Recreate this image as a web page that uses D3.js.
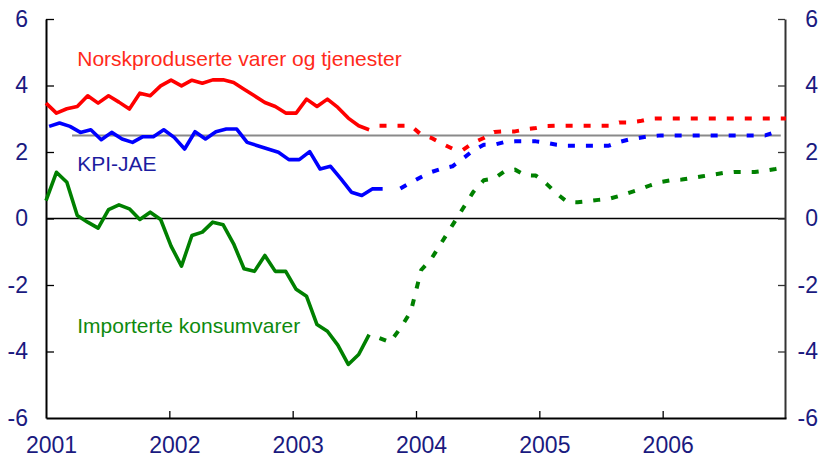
<!DOCTYPE html>
<html>
<head>
<meta charset="utf-8">
<script src="https://cdn.jsdelivr.net/npm/d3@7"></script>
<style>
  body { margin: 0; background: #fff; }
  svg { display: block; font-family: "Liberation Sans", Arial, sans-serif; }
</style>
</head>
<body>
<svg id="drawing_region"></svg>
<script>
// months counted from Jan 2001 (0) to Dec 2006 (71)
const years = [2001, 2002, 2003, 2004, 2005, 2006];
const yTicks = [-6, -4, -2, 0, 2, 4, 6];

const redStart = 0;
const redSolid = [3.47, 3.17, 3.3, 3.37, 3.69, 3.47, 3.69, 3.5, 3.29, 3.77, 3.69, 3.99,
                  4.16, 3.99, 4.16, 4.07, 4.17, 4.17, 4.09, 3.89, 3.69, 3.49, 3.37, 3.17,
                  3.17, 3.59, 3.37, 3.59, 3.34, 3.02, 2.79, 2.67];
const redDashStart = 32;
const redDash = [2.79, 2.79, 2.79, 2.79, 2.52, 2.42, 2.25, 2.1, 2.06, 2.28, 2.42, 2.6,
                 2.62, 2.62, 2.68, 2.72, 2.78, 2.79, 2.79, 2.79, 2.79, 2.79, 2.79, 2.89,
                 2.89, 2.93, 3.0, 3.01, 3.01, 3.01, 3.01, 3.01, 3.01, 3.01, 3.01, 3.01,
                 3.01, 3.01, 3.01, 3.01];

const blueStart = 0.3;
const blueSolid = [2.77, 2.87, 2.77, 2.59, 2.67, 2.37, 2.59, 2.39, 2.29, 2.46, 2.46, 2.67,
                   2.44, 2.09, 2.61, 2.39, 2.61, 2.69, 2.69, 2.29, 2.19, 2.09, 1.99, 1.77,
                   1.77, 2.01, 1.49, 1.57, 1.19, 0.79, 0.69, 0.89, 0.89];
const blueDashStart = 34;
const blueDash = [0.9, 1.08, 1.25, 1.4, 1.5, 1.57, 1.8, 2.05, 2.22, 2.22, 2.3, 2.32,
                  2.32, 2.32, 2.28, 2.22, 2.19, 2.19, 2.19, 2.19, 2.19, 2.3, 2.38, 2.43,
                  2.48, 2.5, 2.5, 2.5, 2.5, 2.5, 2.5, 2.5, 2.5, 2.5, 2.5, 2.5, 2.6];

const greenStart = 0;
const greenSolid = [0.54, 1.39, 1.09, 0.09, -0.11, -0.29, 0.27, 0.41, 0.29, -0.03, 0.19, -0.03,
                    -0.83, -1.43, -0.51, -0.41, -0.11, -0.19, -0.76, -1.51, -1.59, -1.11, -1.59, -1.59,
                    -2.13, -2.34, -3.19, -3.39, -3.81, -4.39, -4.09, -3.49];
const greenDashStart = 32;
const greenDash = [-3.6, -3.72, -3.3, -2.8, -1.55, -1.2, -0.7, -0.2, 0.3, 0.8, 1.15, 1.2,
                   1.42, 1.47, 1.3, 1.29, 1.05, 0.75, 0.5, 0.49, 0.52, 0.56, 0.59, 0.68,
                   0.78, 0.88, 1.0, 1.1, 1.15, 1.17, 1.22, 1.27, 1.32, 1.37, 1.4, 1.4,
                   1.4, 1.44, 1.49, 1.55];

const refLevel = 2.5;
const refSpan = [2.5, 70.5];

const labels = [
  { text: "Norskproduserte varer og tjenester", value: 4.6, color: "#ff2a1a" },
  { text: "KPI-JAE", value: 1.42, color: "#1c1ca0" },
  { text: "Importerte konsumvarer", value: -3.45, color: "#0e8a0e" }
];

const config = {
  width: 825, height: 463,
  left: 46, right: 786, top: 19, bottom: 418
};

const svg = d3.select("#drawing_region")
  .attr("width", config.width)
  .attr("height", config.height);

const x = d3.scaleLinear().domain([0, 71]).range([config.left, config.right]);
const xYear = d3.scaleLinear().domain([2001, 2007]).range([config.left, config.right]);
const y = d3.scaleLinear().domain([-6, 6]).range([config.bottom, config.top]);

// reference line and zero line
svg.append("line")
  .attr("x1", x(refSpan[0])).attr("x2", x(refSpan[1]))
  .attr("y1", y(refLevel)).attr("y2", y(refLevel))
  .attr("stroke", "#8a8a8a").attr("stroke-width", 2);

svg.append("line")
  .attr("x1", config.left).attr("x2", config.right)
  .attr("y1", y(0)).attr("y2", y(0))
  .attr("stroke", "#000").attr("stroke-width", 1.5);

// axes
const tickColor = "#1a1a80";
const plainNum = d => String(d);

const left = svg.append("g")
  .attr("transform", `translate(${config.left},0)`)
  .call(d3.axisLeft(y).tickValues(yTicks).tickFormat(plainNum)
        .tickSizeInner(-8).tickSizeOuter(0).tickPadding(18));

const right = svg.append("g")
  .attr("transform", `translate(${config.right - 1},0)`)
  .call(d3.axisRight(y).tickValues(yTicks).tickFormat(plainNum)
        .tickSizeInner(-7).tickSizeOuter(0));
right.selectAll("text").attr("x", 33).attr("text-anchor", "end");

const bottom = svg.append("g")
  .attr("transform", `translate(0,${config.bottom})`)
  .call(d3.axisBottom(xYear).tickValues(years).tickFormat(plainNum)
        .tickSizeInner(-7).tickSizeOuter(0).tickPadding(19));
bottom.selectAll("text").attr("dx", 5);

[left, right, bottom].forEach(g => {
  g.selectAll("text").attr("fill", tickColor).attr("font-size", 23)
    .attr("font-family", "'Liberation Sans', Arial, sans-serif");
  g.select(".domain").attr("stroke-width", 2);
  g.selectAll(".tick line").attr("stroke-width", 1.3);
});
right.select(".domain").attr("stroke", "#333");
right.selectAll(".tick line").attr("stroke", "#333");
left.selectAll(".tick").filter(d => d === -6).select("line").remove();
right.selectAll(".tick").filter(d => d === -6).select("line").remove();
bottom.selectAll(".tick").filter(d => d === 2001).select("line").remove();

// series
const line = d3.line().x(d => x(d.m)).y(d => y(d.v));
const toPoints = (start, vals) => vals.map((v, i) => ({ m: start + i, v: v }));

const series = [
  { start: redStart, vals: redSolid, color: "#ff0000", dash: null },
  { start: redDashStart, vals: redDash, color: "#ff0000", dash: "7,11" },
  { start: blueStart, vals: blueSolid, color: "#0000ff", dash: null },
  { start: blueDashStart, vals: blueDash, color: "#0000ff", dash: "7,11" },
  { start: greenStart, vals: greenSolid, color: "#008000", dash: null },
  { start: greenDashStart, vals: greenDash, color: "#008000", dash: "7,11" }
];

svg.selectAll("path.series")
  .data(series)
  .enter()
  .append("path")
  .attr("class", "series")
  .attr("d", d => line(toPoints(d.start, d.vals)))
  .attr("fill", "none")
  .attr("stroke", d => d.color)
  .attr("stroke-width", d => d.dash ? 4 : 3.6)
  .attr("stroke-linejoin", "round")
  .attr("stroke-dasharray", d => d.dash);

// series labels
svg.selectAll("text.label")
  .data(labels)
  .enter()
  .append("text")
  .attr("class", "label")
  .attr("x", x(3))
  .attr("y", d => y(d.value))
  .attr("font-size", 21)
  .attr("fill", d => d.color)
  .text(d => d.text);
</script>
</body>
</html>
